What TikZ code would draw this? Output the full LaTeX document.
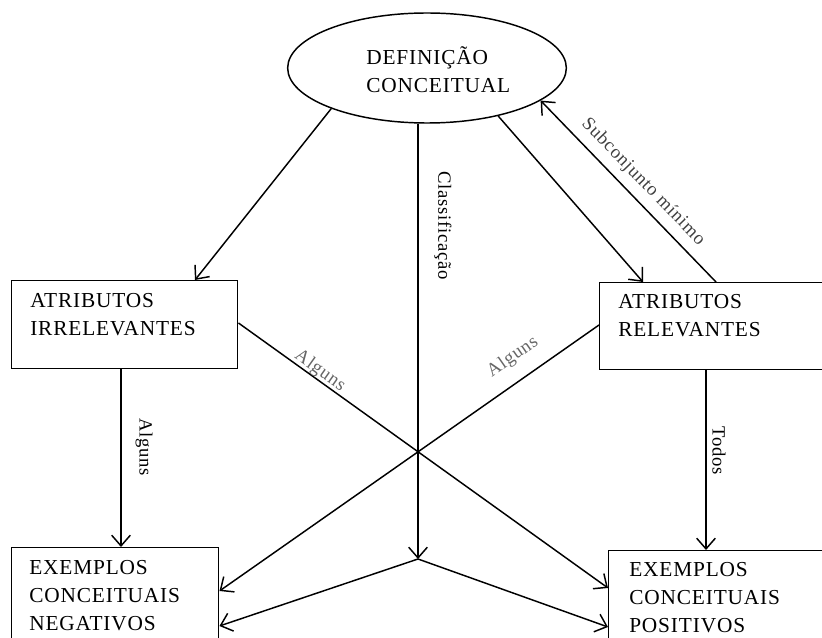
\documentclass[tikz,border=0pt]{standalone}
\usepackage{fontspec}
\setmainfont[LetterSpace=4]{Liberation Serif}
\usetikzlibrary{arrows.meta,shapes.geometric,positioning,calc}

\begin{document}
\begin{tikzpicture}[x=0.75pt,y=-0.75pt,
	box/.style={draw,rectangle,anchor=north west,inner sep=0,line width=1.1pt},
	txt/.style={anchor=north west,inner sep=0,align=left,font=\fontsize{16}{21}\selectfont},
	lbl/.style={inner sep=0,font=\fontsize{14}{16}\selectfont},
	arr/.style={-{Straight Barb[length=8pt,width=14pt]},line width=1.1pt}]
	\useasboundingbox (0,0) rectangle (822,638);
	\clip (0,0) rectangle (822,638);
	% nodes
	\node[draw,ellipse,line width=1.1pt,inner sep=0,minimum width=209pt,minimum height=82.5pt] (def) at (427,68) {};
	\node[txt] (deftxt) at ($(def.center)+(-61,-23)$) {\strut DEFINIÇÃO\\CONCEITUAL};
	\node[box,minimum width=169.5pt,minimum height=66pt] (irr) at (11,280) {};
	\node[txt] (irrtxt) at ($(irr.north west)+(19,8)$) {\strut ATRIBUTOS\\IRRELEVANTES};
	\node[box,minimum width=172.5pt,minimum height=65.25pt] (rel) at (599,282) {};
	\node[txt] (reltxt) at ($(rel.north west)+(19,7)$) {\strut ATRIBUTOS\\RELEVANTES};
	\node[box,minimum width=155.25pt,minimum height=90pt] (neg) at (11,547) {};
	\node[txt] (negtxt) at ($(neg.north west)+(18,8)$) {\strut EXEMPLOS\\CONCEITUAIS\\NEGATIVOS};
	\node[box,minimum width=172.5pt,minimum height=90pt] (pos) at (608,550) {};
	\node[txt] (postxt) at ($(pos.north west)+(21,7)$) {\strut EXEMPLOS\\CONCEITUAIS\\POSITIVOS};
	\coordinate (jn) at (418,559);
	% connectors
	\draw[arr] (def.203) -- ($(irr.north west)+(184,0)$);
	\draw[arr] (def.326) -- ($(rel.north west)+(44,0)$);
	\draw[arr] ($(rel.north west)+(117,0)$) -- (def.344);
	\draw[arr] (jn |- def.south) -- (jn);
	\draw[arr] (jn) -- ($(neg.north east)+(0,79)$);
	\draw[arr] (jn) -- ($(pos.north west)+(0,77)$);
	\draw[arr] ($(irr.south west)+(110,0)$) coordinate (a) -- (a |- neg.north);
	\draw[arr] ($(rel.south west)+(107,0)$) coordinate (b) -- (b |- pos.north);
	\draw[arr] ($(irr.north east)+(0,43)$) -- ($(pos.north west)+(0,38)$);
	\draw[arr] ($(rel.north west)+(0,43)$) -- ($(neg.north east)+(0,44)$);
	% labels
	\node[lbl,rotate=-90] (lcla) at (443,226) {Classificação};
	\node[lbl,rotate=-46,text=black!75] (lsub) at (643,182) {Subconjunto mínimo};
	\node[lbl,rotate=-35.5,text=black!60] (lalg1) at (320,371) {Alguns};
	\node[lbl,rotate=35,text=black!60] (lalg2) at (513,357) {Alguns};
	\node[lbl,rotate=-90] (lalg3) at (144,447) {Alguns};
	\node[lbl,rotate=-90] (ltod) at (719,451) {Todos};
\end{tikzpicture}
\end{document}
